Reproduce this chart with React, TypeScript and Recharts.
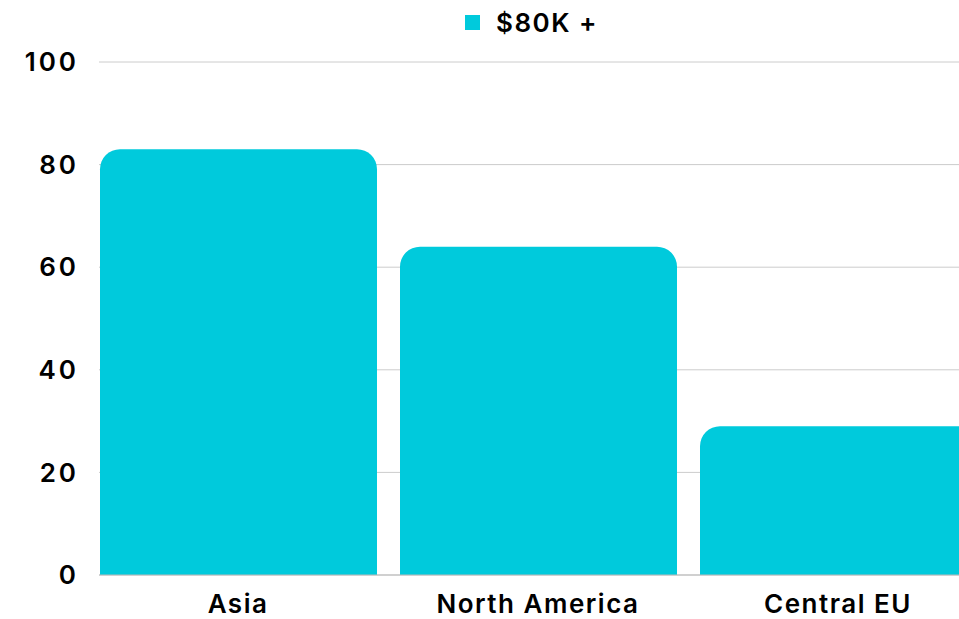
import { BarChart, Bar, XAxis, YAxis, CartesianGrid, Legend } from "recharts";

const regions = ["Asia", "North America", "Central EU"];
const share80kPlus = [83, 64, 29];
const yTicks = [0, 20, 40, 60, 80, 100];

const data = regions.map((region, i) => ({ region, value: share80kPlus[i] }));

const BAR_COLOR = "#00CADC";
const FONT = "Inter, 'Open Sans', sans-serif";

function LegendContent() {
  return (
    <div style={{ height: 62, fontFamily: FONT }}>
      <div style={{ display: "flex", alignItems: "center", height: 44 }}>
        <span style={{ width: 15, height: 15, background: BAR_COLOR, display: "inline-block", marginRight: 16 }} />
        <span style={{ fontSize: 26, fontWeight: 600, color: "#000", letterSpacing: 1.5 }}>$80K +</span>
      </div>
    </div>
  );
}

const tickStyle = { fill: "#000", fontSize: 26, fontWeight: 600, fontFamily: FONT, letterSpacing: 1.5 };
const yTickStyle = { ...tickStyle, letterSpacing: 3 };

export default function App() {
  return (
    <div style={{ position: "absolute", left: 0, top: 0, width: 959, height: 619, overflow: "hidden", background: "#fff" }}>
      <BarChart
        width={1000}
        height={619}
        data={data}
        margin={{ top: 0, right: 1, bottom: 0, left: 0 }}
        barSize={277}
      >
        <Legend
          verticalAlign="top"
          align="left"
          content={<LegendContent />}
          wrapperStyle={{ left: 465, top: 0, width: 300, height: 62 }}
        />
        <CartesianGrid vertical={false} stroke="#cccccc" />
        <XAxis
          dataKey="region"
          padding={{ left: -11, right: 11 }}
          tickLine={false}
          tickSize={0}
          tickMargin={20}
          height={44}
          axisLine={{ stroke: "#bbbbbb" }}
          tick={tickStyle}
        />
        <YAxis
          domain={[0, 100]}
          ticks={yTicks}
          width={99}
          axisLine={false}
          tickLine={false}
          tickSize={0}
          tickMargin={20}
          tick={yTickStyle}
        />
        <Bar dataKey="value" fill={BAR_COLOR} radius={[20, 20, 0, 0]} isAnimationActive={false} />
      </BarChart>
    </div>
  );
}
